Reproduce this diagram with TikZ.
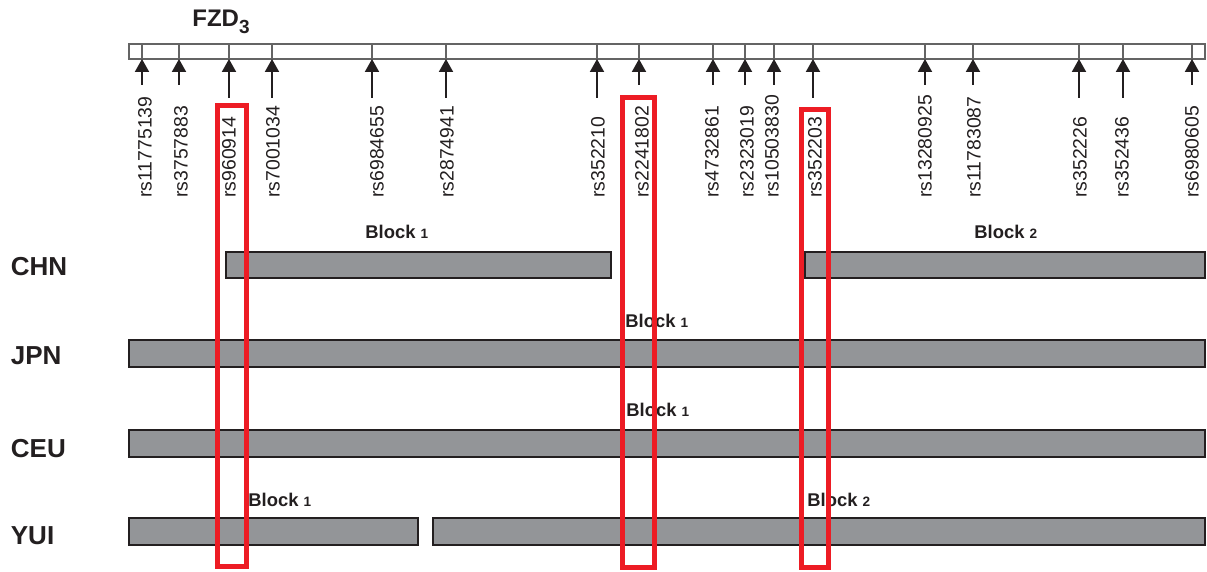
\documentclass[tikz,border=0pt]{standalone}
\usepackage{fontspec}
\setmainfont{Liberation Sans}
\usetikzlibrary{arrows.meta}

\definecolor{bargray}{RGB}{147,149,152}
\definecolor{edgeblack}{RGB}{35,31,32}
\definecolor{boxred}{RGB}{237,28,36}
\definecolor{genegray}{RGB}{100,100,100}

\tikzset{
  hapbar/.style={fill=bargray, draw=edgeblack, line width=1pt},
  redbox/.style={draw=boxred, line width=2.5pt},
  genebar/.style={draw=genegray, fill=white, line width=0.8pt},
  snptick/.style={draw=genegray, line width=0.8pt},
  snparrow/.style={edgeblack, line width=1pt, -{Triangle[width=7pt,length=6.5pt]}},
  snplab/.style={rotate=90, anchor=west, inner sep=0pt, text=edgeblack,
    font=\fontsize{9.7}{11}\selectfont},
  poplab/.style={anchor=base west, inner sep=0pt, text=edgeblack,
    font=\fontsize{13}{15}\selectfont\bfseries},
  blocklab/.style={anchor=base west, inner sep=0pt, text=edgeblack,
    font=\fontsize{9.2}{11}\selectfont\bfseries},
}
\newcommand{\blk}[1]{Block {\fontsize{6.8}{8}\selectfont #1}}

\begin{document}
\begin{tikzpicture}[x=0.5pt,y=-0.5pt]
\useasboundingbox (0,0) rectangle (1207,572);

% gene
\node[anchor=base west, inner sep=0pt, text=edgeblack, font=\fontsize{12}{14}\selectfont\bfseries]
  (gene) at (192,27) {FZD\raisebox{-3.5pt}{\fontsize{9.5}{11}\selectfont 3}};
\draw[genebar] (129,44) rectangle (1205,59);

% SNPs: tick x / rs number / arrow tail / label x
\foreach \x/\id/\l/\lx [count=\i] in {142/11775139/85/145, 179/3757883/85/181,
    229/960914/98/229, 272/7001034/98/273, 372/6984655/98/377, 446/2874941/98/447,
    597/352210/98/598, 639/2241802/85/642, 713/4732861/85/712, 745/2323019/85/747,
    774/10503830/85/772, 813/352203/98/815, 925/13280925/85/925, 973/11783087/85/974,
    1079/352226/98/1080, 1123/352436/98/1122, 1192/6980605/85/1192}{
  \coordinate (top\i) at (\x,44);
  \coordinate (tip\i) at (\x,59);
  \coordinate (tail\i) at (\x,\l);
  \draw[snptick] (top\i) -- (tip\i);
  \draw[snparrow] (tail\i) -- (tip\i);
  \node[snplab] (snp\i) at (\lx,198) {rs\id};
}

% populations
\node[poplab] (chn) at (10.5,276) {CHN};
\node[poplab] (jpn) at (10.5,365) {JPN};
\node[poplab] (ceu) at (10.5,457.5) {CEU};
\node[poplab] (yui) at (10.5,545) {YUI};

% haplotype blocks
\draw[hapbar] (226,252) rectangle (611,278);
\draw[hapbar] (805,252) rectangle (1205,278);
\draw[hapbar] (129,340) rectangle (1205,367);
\draw[hapbar] (129,430) rectangle (1205,457);
\draw[hapbar] (129,518) rectangle (418,545);
\draw[hapbar] (433,518) rectangle (1205,545);

\node[blocklab] (chnb1) at (365,239) {\blk{1}};
\node[blocklab] (chnb2) at (974,239) {\blk{2}};
\node[blocklab] (jpnb1) at (625,328) {\blk{1}};
\node[blocklab] (ceub1) at (626,417) {\blk{1}};
\node[blocklab] (yuib1) at (248,507) {\blk{1}};
\node[blocklab] (yuib2) at (807,507) {\blk{2}};

% highlighted SNPs
\draw[redbox] (217.5,105.5) rectangle (246,566.5);
\draw[redbox] (622.8,97.5) rectangle (654.2,568);
\draw[redbox] (801.5,110) rectangle (828.5,568);
\end{tikzpicture}
\end{document}
